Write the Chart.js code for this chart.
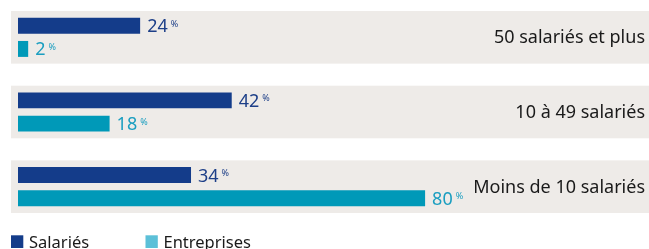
<!DOCTYPE html>
<html lang="fr">
<head>
  <meta charset="UTF-8">
  <title>Salariés et entreprises par taille</title>
  <script src="https://cdn.jsdelivr.net/npm/chart.js"></script>
  <style>
    body { margin: 0; padding: 0; background: #fff; }
    #wrap { position: relative; width: 649px; height: 249px; }
  </style>
</head>
<body>
  <div id="wrap">
    <canvas id="tailleChart" width="649" height="249"></canvas>
  </div>

  <script>
    const categories = ['50 salariés et plus', '10 à 49 salariés', 'Moins de 10 salariés'];
    const seriesNames = ['Salariés', 'Entreprises'];
    const salaries = [24, 42, 34];
    const entreprises = [2, 18, 80];

    const FONT = '"Noto Sans", "Open Sans", sans-serif';
    const barColors = ['#143c8a', '#0099b8'];
    const textColors = ['#1d3f88', '#1a9ec0'];
    const legendColors = ['#143c8a', '#5cc0d8'];

    // bandes grises derrière chaque groupe + libellés de catégorie à droite
    const bandsPlugin = {
      id: 'bands',
      beforeDatasetsDraw(chart) {
        const ctx = chart.ctx;
        const y = chart.scales.y;
        ctx.save();
        categories.forEach((c, i) => {
          const yc = y.getPixelForValue(i);
          ctx.fillStyle = '#eeebe8';
          ctx.fillRect(11, yc - 26.3, chart.width - 11, 52.6);
          ctx.fillStyle = '#1a1a1a';
          ctx.font = '18px ' + FONT;
          ctx.textAlign = 'right';
          ctx.textBaseline = 'alphabetic';
          ctx.fillText(c, chart.width - 4, yc + 6);
        });
        ctx.restore();
      }
    };

    // valeurs en bout de barre avec le % en exposant
    const valuesPlugin = {
      id: 'values',
      afterDatasetsDraw(chart) {
        const ctx = chart.ctx;
        ctx.save();
        ctx.textAlign = 'left';
        ctx.textBaseline = 'alphabetic';
        chart.data.datasets.forEach((ds, di) => {
          const meta = chart.getDatasetMeta(di);
          meta.data.forEach((bar, i) => {
            const txt = String(ds.data[i]);
            ctx.fillStyle = textColors[di];
            ctx.font = '18px ' + FONT;
            const x = bar.x + 7;
            ctx.fillText(txt, x, bar.y + 6.5);
            const w = ctx.measureText(txt).width;
            ctx.font = '9px ' + FONT;
            ctx.fillText('%', x + w + 3, bar.y + 1);
          });
        });
        ctx.restore();
      }
    };

    // légende en bas à gauche
    const legendPlugin = {
      id: 'legendBas',
      afterDraw(chart) {
        const ctx = chart.ctx;
        const xs = [11, 145.5];
        ctx.save();
        ctx.font = '16.5px ' + FONT;
        ctx.textBaseline = 'alphabetic';
        ctx.textAlign = 'left';
        seriesNames.forEach((name, i) => {
          ctx.fillStyle = legendColors[i];
          ctx.fillRect(xs[i], 235.3, 12.3, 12.7);
          ctx.fillStyle = '#1a1a1a';
          ctx.fillText(name, xs[i] + 18, 248);
        });
        ctx.restore();
      }
    };

    new Chart(document.getElementById('tailleChart'), {
      type: 'bar',
      data: {
        labels: categories,
        datasets: [
          { label: seriesNames[0], data: salaries, backgroundColor: barColors[0] },
          { label: seriesNames[1], data: entreprises, backgroundColor: barColors[1] }
        ]
      },
      options: {
        indexAxis: 'y',
        responsive: false,
        animation: false,
        devicePixelRatio: 1,
        categoryPercentage: 0.6213,
        barPercentage: 0.687,
        borderWidth: 0,
        layout: { padding: { left: 18, right: 0, top: -1, bottom: 25 } },
        scales: {
          x: { display: false, min: 0, max: 124 },
          y: { display: false }
        },
        plugins: {
          legend: { display: false },
          tooltip: { enabled: false }
        }
      },
      plugins: [bandsPlugin, valuesPlugin, legendPlugin]
    });
  </script>
</body>
</html>
